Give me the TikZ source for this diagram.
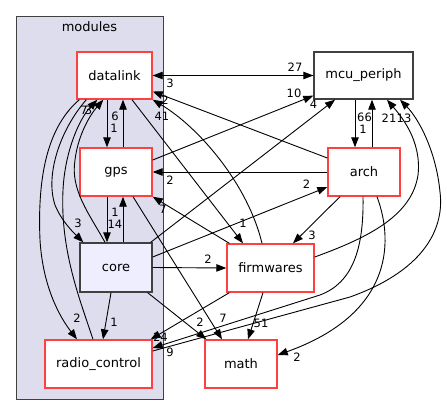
\documentclass[tikz,border=0pt]{standalone}
\usepackage{fontspec}
\setmainfont{DejaVu Sans}
\usetikzlibrary{arrows.meta,calc}
\definecolor{dirred}{RGB}{255,64,64}
\definecolor{clfill}{RGB}{221,221,238}
\definecolor{corefill}{RGB}{238,238,255}
\definecolor{bord}{RGB}{64,64,64}
\begin{document}
\begin{tikzpicture}[x=1pt,y=-1pt,
  box/.style={rectangle, inner sep=0pt, line width=1.4pt, fill=white, font=\fontsize{13}{15}\selectfont},
  dirbox/.style={box, draw=dirred},
  lbl/.style={inner sep=0pt, font=\fontsize{11.5}{13}\selectfont},
  dep/.style={draw=black, line width=0.9pt, -{Triangle[length=10pt,width=7.5pt]}}]
\useasboundingbox (0,0) rectangle (447,415);
\node[draw=bord, fill=clfill, line width=1pt, minimum width=147pt, minimum height=383pt, inner sep=0pt] (modules) at (89.5,207.5) {};
\node[inner sep=0pt, font=\fontsize{13}{15}\selectfont] (modlbl) at (89.5,27) {modules};

% nodes
\node[dirbox, minimum width=75pt, minimum height=47pt] (DL) at (114.5,75.5) {datalink};
\node[dirbox, minimum width=72pt, minimum height=48pt] (GPS) at (116,172) {gps};
\node[box, draw=bord, fill=corefill, minimum width=72pt, minimum height=49pt] (CORE) at (116,267.5) {core};
\node[dirbox, minimum width=107pt, minimum height=48pt] (RC) at (98.5,364) {radio\_control};
\node[box, draw=bord, minimum width=99pt, minimum height=47pt] (MCU) at (363.5,75.5) {mcu\_periph};
\node[dirbox, minimum width=72pt, minimum height=48pt] (ARCH) at (364,172) {arch};
\node[dirbox, minimum width=87pt, minimum height=48pt] (FW) at (270.5,268) {firmwares};
\node[dirbox, minimum width=72pt, minimum height=48pt] (MATH) at (241,364) {math};

% edges
\draw[dep] (DL.east) -- (MCU.west);
\draw[dep] (MCU.west) -- (DL.east);
\draw[dep] ($(DL.south)+(-7.5,0)$) -- ($(GPS.north)+(-9,0)$);
\draw[dep] ($(GPS.north)+(7,0)$) -- ($(DL.south)+(8.5,0)$);
\draw[dep] ($(GPS.south)+(-9,0)$) -- ($(CORE.north)+(-9,0)$);
\draw[dep] ($(CORE.north)+(7,0)$) -- ($(GPS.south)+(7,0)$);
\draw[dep] ($(ARCH.west)+(0,-14)$) -- ($(DL.east)+(0,16)$);
\draw[dep] ($(FW.north)+(-8.5,0)$) .. controls (248,185) and (200,128) .. (DL.south east);
\draw[dep] ($(DL.south)+(17.5,0)$) -- ($(FW.north)+(-27.5,0)$);
\draw[dep] ($(DL.south west)+(10,0)$) .. controls (60,130) and (45,175) .. (55,205) .. controls (62,222) and (74,233) .. ($(CORE.north west)+(4,0)$);
\draw[dep] ($(DL.south west)+(3,0)$) .. controls (50,125) and (37,170) .. (40,240) .. controls (43,290) and (62,320) .. ($(RC.north)+(-21.5,0)$);
\draw[dep] ($(RC.north)+(-5.5,0)$) .. controls (80,300) and (60,250) .. (63,190) .. controls (65,150) and (80,118) .. ($(DL.south west)+(21,0)$);
\draw[dep] ($(CORE.north)+(-11,0)$) .. controls (90,215) and (70,190) .. (75,160) .. controls (78,135) and (90,115) .. ($(DL.south west)+(27,0)$);
\draw[dep] ($(GPS.east)+(0,-12)$) -- ($(MCU.south west)+(0,-4)$);
\draw[dep] ($(CORE.north east)+(-2,0)$) -- ($(MCU.south)+(-28.5,0)$);
\draw[dep] ($(MCU.south)+(-8.5,0)$) -- ($(ARCH.north)+(-9,0)$);
\draw[dep] ($(ARCH.north)+(8,0)$) -- ($(MCU.south)+(8.5,0)$);
\draw[dep] (ARCH.west) -- (GPS.east);
\draw[dep] ($(FW.north west)+(3,0)$) -- (GPS.south east);
\draw[dep] ($(GPS.south)+(17,0)$) -- ($(MATH.north)+(-19,0)$);
\draw[dep] ($(CORE.south east)+(-5,0)$) -- ($(MATH.north west)+(2,0)$);
\draw[dep] ($(CORE.east)+(0,-10.5)$) -- ($(ARCH.west)+(0,15)$);
\draw[dep] (CORE.east) -- (FW.west);
\draw[dep] ($(CORE.south)+(-5,0)$) -- ($(RC.north)+(4.5,0)$);
\draw[dep] ($(FW.south)+(-7.5,0)$) -- ($(MATH.north)+(7,0)$);
\draw[dep] ($(FW.south west)+(3,0)$) -- ($(RC.north east)+(-2,0)$);
\draw[dep] ($(ARCH.south)+(-24,0)$) -- ($(FW.north)+(22.5,0)$);
\draw[dep] ($(ARCH.south)+(-1,0)$) .. controls (364,250) and (352,283) .. (320,295) -- ($(RC.east)+(0,-16)$);
\draw[dep] ($(RC.east)+(0,-13)$) -- (350,297) .. controls (420,272) and (445,232) .. (440,192) .. controls (436,150) and (418,118) .. ($(MCU.south)+(36.5,0)$);
\draw[dep] ($(FW.east)+(0,-11)$) .. controls (370,237) and (412,215) .. (418,175) .. controls (422,140) and (400,115) .. ($(MCU.south)+(23.5,0)$);
\draw[dep] ($(ARCH.south)+(13,0)$) .. controls (395,245) and (390,315) .. ($(MATH.east)+(0,-9)$);

% labels
\node[lbl] (l1) at (295,67) {27};
\node[lbl] (l2) at (170,83) {3};
\node[lbl] (l3) at (294,93) {10};
\node[lbl] (l4) at (313.5,104) {4};
\node[lbl] (l5) at (364.5,117) {66};
\node[lbl] (l6) at (363,129) {1};
\node[lbl] (l7) at (389,118) {21};
\node[lbl] (l8) at (404,118) {13};
\node[lbl] (l9) at (306.5,184) {2};
\node[lbl] (l10) at (165,100) {2};
\node[lbl] (l11) at (162,116) {41};
\node[lbl] (l12) at (115,116) {6};
\node[lbl] (l13) at (114,128) {1};
\node[lbl] (l14) at (84,110) {7};
\node[lbl] (l15) at (88.5,110) {3};
\node[lbl] (l16) at (115,212) {1};
\node[lbl] (l17) at (115,224) {14};
\node[lbl] (l18) at (78,223) {3};
\node[lbl] (l19) at (170,180) {2};
\node[lbl] (l20) at (163,209) {7};
\node[lbl] (l21) at (243,223) {1};
\node[lbl] (l22) at (312,235) {3};
\node[lbl] (l23) at (208,259) {2};
\node[lbl] (l24) at (77,318) {2};
\node[lbl] (l25) at (114,322) {1};
\node[lbl] (l26) at (200,322) {2};
\node[lbl] (l27) at (223,318) {7};
\node[lbl] (l28) at (160.5,337) {24};
\node[lbl] (l29) at (170,352) {9};
\node[lbl] (l30) at (261,323) {51};
\node[lbl] (l31) at (297,357) {2};
\end{tikzpicture}
\end{document}
